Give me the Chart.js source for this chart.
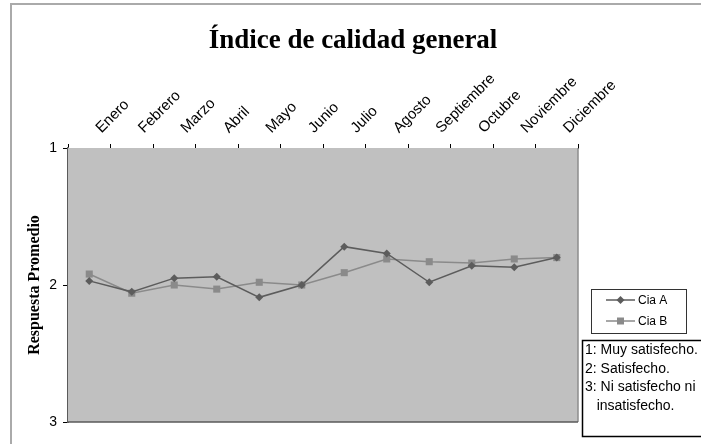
<!DOCTYPE html>
<html>
<head>
<meta charset="utf-8">
<title>Índice de calidad general</title>
<script src="https://cdn.jsdelivr.net/npm/chart.js@4.4.1/dist/chart.umd.min.js"></script>
<style>
  html, body { margin: 0; padding: 0; background: #fff; }
  #wrap { width: 701px; height: 444px; }
</style>
</head>
<body>
<div id="wrap"><canvas id="chart" width="701" height="444"></canvas></div>
<script>
var months = ['Enero', 'Febrero', 'Marzo', 'Abril', 'Mayo', 'Junio', 'Julio',
  'Agosto', 'Septiembre', 'Octubre', 'Noviembre', 'Diciembre'];

var ciaA = [1.97, 2.05, 1.95, 1.94, 2.09, 2.00, 1.72, 1.77, 1.98, 1.86, 1.87, 1.80];
var ciaB = [1.92, 2.06, 2.00, 2.03, 1.98, 2.00, 1.91, 1.81, 1.83, 1.84, 1.81, 1.80];

var yTicks = [1, 2, 3];

var chartTitle = 'Índice de calidad general';
var yTitle = 'Respuesta Promedio';
var notes = ['1: Muy satisfecho.', '2: Satisfecho.', '3: Ni satisfecho ni', '   insatisfecho.'];

var colA = '#5c5c5c';
var colB = '#8a8a8a';

// frame, grey plot area, title, legend and the notes box
var decor = {
  id: 'decor',
  beforeDraw: function(chart){
    var ctx = chart.ctx;
    ctx.save();
    ctx.strokeStyle = '#aaaaaa';
    ctx.lineWidth = 2;
    ctx.beginPath();
    ctx.moveTo(11, 444);
    ctx.lineTo(11, 4);
    ctx.lineTo(701, 4);
    ctx.stroke();
    ctx.restore();
  },
  beforeDatasetsDraw: function(chart){
    var a = chart.chartArea, ctx = chart.ctx;
    ctx.save();
    ctx.fillStyle = '#c0c0c0';
    ctx.fillRect(a.left, a.top, a.right - a.left, a.bottom - a.top);
    ctx.restore();
  },
  afterDraw: function(chart){
    var a = chart.chartArea, ctx = chart.ctx;
    ctx.save();
    ctx.lineWidth = 1.5;
    ctx.strokeStyle = '#8c8c8c';
    ctx.beginPath();
    ctx.moveTo(a.right, a.top);
    ctx.lineTo(a.right, a.bottom);
    ctx.stroke();
    ctx.strokeStyle = '#5a5a5a';
    ctx.beginPath();
    ctx.moveTo(a.left, a.bottom);
    ctx.lineTo(a.right, a.bottom);
    ctx.stroke();

    // title
    ctx.fillStyle = '#000';
    ctx.font = 'bold 27px "Liberation Serif", serif';
    ctx.textAlign = 'center';
    ctx.textBaseline = 'alphabetic';
    ctx.fillText(chartTitle, 353, 48);

    // legend
    ctx.fillStyle = '#fff';
    ctx.fillRect(591, 289, 95, 44);
    ctx.strokeStyle = '#333';
    ctx.lineWidth = 1;
    ctx.strokeRect(591.5, 289.5, 95, 44);
    ctx.font = '12px "Liberation Sans", Arial, sans-serif';
    ctx.textAlign = 'left';
    ctx.textBaseline = 'middle';
    chart.data.datasets.forEach(function(ds, i){
      var y = 300 + i * 21;
      ctx.strokeStyle = ds.borderColor;
      ctx.lineWidth = 1.5;
      ctx.beginPath();
      ctx.moveTo(606, y);
      ctx.lineTo(635, y);
      ctx.stroke();
      ctx.fillStyle = ds.borderColor;
      ctx.beginPath();
      if (ds.pointStyle === 'rectRot'){
        ctx.moveTo(620.5, y - 4);
        ctx.lineTo(624.5, y);
        ctx.lineTo(620.5, y + 4);
        ctx.lineTo(616.5, y);
        ctx.closePath();
      } else {
        ctx.rect(617, y - 3.5, 7, 7);
      }
      ctx.fill();
      ctx.fillStyle = '#000';
      ctx.fillText(ds.label, 638, y + 1);
    });

    // notes box
    ctx.fillStyle = '#fff';
    ctx.fillRect(582, 340, 130, 96);
    ctx.strokeStyle = '#000';
    ctx.strokeRect(582.5, 340.5, 130, 96);
    ctx.fillStyle = '#000';
    ctx.font = '14px "Liberation Sans", Arial, sans-serif';
    ctx.textBaseline = 'middle';
    notes.forEach(function(line, i){
      ctx.fillText(line, 585, 350 + i * 18.8);
    });
    ctx.restore();
  }
};

new Chart(document.getElementById('chart'), {
  type: 'line',
  data: {
    labels: months,
    datasets: [
      {
        label: 'Cia A',
        data: ciaA,
        borderColor: colA,
        backgroundColor: colA,
        borderWidth: 1.5,
        pointStyle: 'rectRot',
        pointRadius: 4,
        pointBorderWidth: 0,
        tension: 0
      },
      {
        label: 'Cia B',
        data: ciaB,
        borderColor: colB,
        backgroundColor: colB,
        borderWidth: 1.5,
        pointStyle: 'rect',
        pointRadius: 5,
        pointBorderWidth: 0,
        tension: 0
      }
    ]
  },
  options: {
    responsive: false,
    animation: false,
    devicePixelRatio: 1,
    layout: { padding: { left: 0, top: 0, right: 123, bottom: 22 } },
    plugins: {
      legend: { display: false },
      title: { display: false },
      tooltip: { enabled: false }
    },
    scales: {
      x: {
        position: 'top',
        offset: true,
        afterFit: function(scale){ scale.height = 148; },
        grid: {
          offset: true,
          drawOnChartArea: false,
          color: '#000',
          tickColor: '#000',
          tickLength: 4
        },
        border: { display: true, color: '#000', width: 1 },
        ticks: {
          minRotation: 45,
          maxRotation: 45,
          padding: 7,
          labelOffset: 22,
          color: '#000',
          font: { family: '"Liberation Sans", Arial, sans-serif', size: 15 }
        }
      },
      y: {
        reverse: true,
        min: 1,
        max: 3,
        afterFit: function(scale){ scale.width = 68; },
        afterBuildTicks: function(scale){
          scale.ticks = yTicks.map(function(v){ return {value: v}; });
        },
        grid: {
          color: function(c){ return c.tick && c.tick.value === 2 ? '#000' : 'rgba(0,0,0,0)'; },
          tickColor: '#000',
          tickLength: 5
        },
        border: { display: true, color: '#5a5a5a', width: 2 },
        ticks: {
          padding: 6,
          color: '#000',
          font: { family: '"Liberation Sans", Arial, sans-serif', size: 14 }
        },
        title: {
          display: true,
          text: yTitle,
          color: '#000',
          padding: { top: 25, bottom: 0 },
          font: { family: '"Liberation Serif", serif', size: 16, weight: 'bold' }
        }
      }
    }
  },
  plugins: [decor]
});
</script>
</body>
</html>
